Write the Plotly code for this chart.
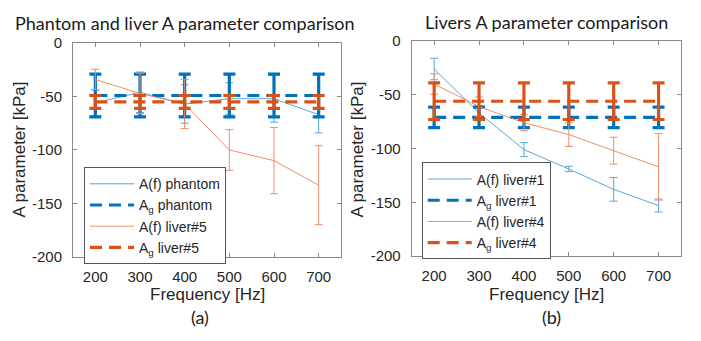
import plotly.graph_objects as go

# ---------------- data ----------------
freq = [200, 300, 400, 500, 600, 700]
x_ticks = [200, 300, 400, 500, 600, 700]
x_tick_labels = ["200", "300", "400", "500", "600", "700"]
y_ticks = [0, -50, -100, -150, -200]
y_tick_labels = ["0", "-50", "-100", "-150", "-200"]

# panel (a)
af_phantom = [-56, -46, -57, -52, -52, -67]
af_phantom_err = [12, 19, 18, 15, 22, 17]
ag_phantom = [-49, -49, -49, -49, -49, -49]
ag_phantom_err = [20, 20, 20, 20, 20, 20]
af_liver5 = [-34, -47, -57, -100, -110, -133]
af_liver5_err = [9.5, 19, 23, 19, 31, 37]
ag_liver5 = [-55, -55, -55, -55, -55, -55]
ag_liver5_err = [6, 6, 6, 6, 6, 6]

# panel (b)
af_liver1 = [-26, -67, -101, -119, -138, -153]
af_liver1_err = [10, 7, 6.5, 2.5, 11, 6]
ag_liver1 = [-71, -71, -71, -71, -71, -71]
ag_liver1_err = [9.5, 9.5, 9.5, 9.5, 9.5, 9.5]
af_liver4 = [-40, -61, -76, -87, -102, -117]
af_liver4_err = [9.5, 9, 7.5, 11, 12.5, 31]
ag_liver4 = [-56, -56, -56, -56, -56, -56]
ag_liver4_err = [17, 17, 17, 17, 17, 17]

BLUE = "#0072BD"
ORANGE = "#D95319"
LBLUE = "#5AA6DA"
LORANGE = "#EE8E66"

W, H = 701, 341


def thin(y, err, color, name, xa, ya, leg):
    return go.Scatter(
        x=freq, y=y, mode="lines", name=name, xaxis=xa, yaxis=ya, legend=leg,
        line=dict(color=color, width=1),
        error_y=dict(type="data", array=err, visible=True, color=color,
                     thickness=1, width=4),
    )


def thick(y, err, color, name, xa, ya, leg):
    return go.Scatter(
        x=freq, y=y, mode="lines", name=name, xaxis=xa, yaxis=ya, legend=leg,
        line=dict(color=color, width=3.2, dash="12px,7px"),
        error_y=dict(type="data", array=err, visible=True, color=color,
                     thickness=3.2, width=6),
    )


fig = go.Figure()
fig.add_trace(thin(af_phantom, af_phantom_err, LBLUE, "A(f) phantom", "x", "y", "legend"))
fig.add_trace(thick(ag_phantom, ag_phantom_err, BLUE, "A<sub>g</sub> phantom", "x", "y", "legend"))
fig.add_trace(thin(af_liver5, af_liver5_err, LORANGE, "A(f) liver#5", "x", "y", "legend"))
fig.add_trace(thick(ag_liver5, ag_liver5_err, ORANGE, "A<sub>g</sub> liver#5", "x", "y", "legend"))

fig.add_trace(thin(af_liver1, af_liver1_err, LBLUE, "A(f) liver#1", "x2", "y2", "legend2"))
fig.add_trace(thick(ag_liver1, ag_liver1_err, BLUE, "A<sub>g</sub> liver#1", "x2", "y2", "legend2"))
fig.add_trace(thin(af_liver4, af_liver4_err, LORANGE, "A(f) liver#4", "x2", "y2", "legend2"))
fig.add_trace(thick(ag_liver4, ag_liver4_err, ORANGE, "A<sub>g</sub> liver#4", "x2", "y2", "legend2"))

TICKFONT = dict(family="Arial", size=15, color="#262626")
AXLINE = "#8a8a8a"


def px_x(p):
    return p / W


def px_y(p):
    return 1 - p / H


common_x = dict(range=[150, 750], tickvals=x_ticks, ticktext=x_tick_labels,
                ticks="inside", ticklen=4, ticklabelstandoff=6,
                tickcolor=AXLINE, showline=True, linecolor=AXLINE, linewidth=1,
                mirror="ticks", showgrid=False, zeroline=False, tickfont=TICKFONT)
common_y = dict(range=[-200, 0], tickvals=y_ticks, ticktext=y_tick_labels,
                ticks="inside", ticklen=4, ticklabelstandoff=7,
                tickcolor=AXLINE, showline=True, linecolor=AXLINE, linewidth=1,
                mirror="ticks", showgrid=False, zeroline=False, tickfont=TICKFONT)

LEGFONT = dict(family="Arial", size=14, color="#262626")

fig.update_layout(
    width=W, height=H, margin=dict(l=0, r=0, t=0, b=0),
    paper_bgcolor="white", plot_bgcolor="white",
    xaxis=dict(domain=[px_x(73), px_x(341)], anchor="y", **common_x),
    yaxis=dict(domain=[px_y(260.7), px_y(36)], anchor="x", **common_y),
    xaxis2=dict(domain=[px_x(411.7), px_x(681)], anchor="y2", **common_x),
    yaxis2=dict(domain=[px_y(260), px_y(33.7)], anchor="x2", **common_y),
    legend=dict(x=px_x(84), y=px_y(166.5), xanchor="left", yanchor="top",
                bordercolor="#555555", borderwidth=1, bgcolor="white",
                font=LEGFONT, itemwidth=44),
    legend2=dict(x=px_x(421.7), y=px_y(161.5), xanchor="left", yanchor="top",
                 bordercolor="#555555", borderwidth=1, bgcolor="white",
                 font=LEGFONT, itemwidth=44),
    showlegend=True,
)

TITLEFONT = dict(family="Lato", size=18, color="#1a1a1a")
LABFONT = dict(family="Arial", size=17, color="#262626")
CAPFONT = dict(family="Lato", size=18, color="#1a1a1a")

ann = [
    dict(text="Phantom and liver A parameter comparison", x=px_x(185), y=px_y(15), font=TITLEFONT),
    dict(text="Livers A parameter comparison", x=px_x(546), y=px_y(13.5), font=TITLEFONT),
    dict(text="Frequency [Hz]", x=px_x(207), y=px_y(300.5), font=LABFONT),
    dict(text="Frequency [Hz]", x=px_x(546), y=px_y(300), font=LABFONT),
    dict(text="(a)", x=px_x(200), y=px_y(324.5), font=CAPFONT),
    dict(text="(b)", x=px_x(551), y=px_y(324.5), font=CAPFONT),
    dict(text="A parameter [kPa]", x=px_x(20), y=px_y(148), font=LABFONT, textangle=-90),
    dict(text="A parameter [kPa]", x=px_x(358), y=px_y(148), font=LABFONT, textangle=-90),
]
for a in ann:
    fig.add_annotation(xref="paper", yref="paper", showarrow=False,
                       xanchor="center", yanchor="middle", **a)

fig.write_html("out.html")
